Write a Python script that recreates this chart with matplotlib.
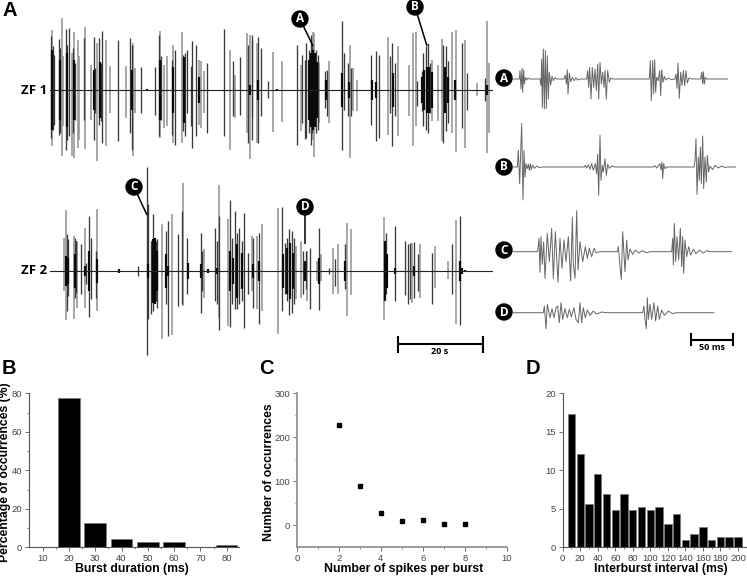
#!/usr/bin/env python3
# -*- coding: utf-8 -*-
"""ZF1/ZF2 recordings, zoomed bursts and the three burst statistics panels"""
import matplotlib
matplotlib.use('Agg')
import matplotlib.pyplot as plt
from matplotlib.patches import Circle

# traces: time in samples (3 samples = 1 px), amplitude up / down from baseline
zf1_dark_t = [153, 158, 162, 176, 180, 198, 202, 207, 219, 226, 251, 281, 285, 298, 302, 307, 355, 391, 396, 424,
              465, 476, 484, 515, 524, 549, 556, 560, 573, 577, 588, 622, 672, 699, 719, 745, 757, 755, 775, 783,
              805, 890, 905, 915, 918, 928, 932, 935, 947, 953, 974, 980, 1027, 1031, 1043, 1053, 1114, 1128, 1136,
              1170, 1177, 1186, 1252, 1265, 1270, 1277, 1283, 1290, 1330, 1338, 1345, 1387, 1402, 1454]
zf1_dark_up = [161, 131, 106, 153, 126, 183, 136, 186, 126, 81, 156, 159, 66, 156, 81, 178, 151, 156, 136, 68,
               68, 166, 101, 91, 121, 106, 111, 121, 71, 146, 136, 81, 183, 86, 99, 136, 166, 150, 159, 126,
               26, 134, 106, 91, 141, 121, 166, 131, 121, 106, 56, 61, 206, 111, 81, 66, 106, 116, 106,
               101, 141, 81, 26, 56, 111, 131, 141, 81, 136, 131, 86, 141, 51, 36]
zf1_dark_down = [144, 119, 104, 134, 129, 179, 149, 139, 129, 89, 89, 149, 69, 104, 94, 159, 154, 129, 179, 69,
                 74, 139, 89, 134, 164, 124, 139, 69, 109, 174, 139, 129, 139, 79, 74, 159, 150, 80, 159, 79,
                 24, 164, 99, 147, 145, 129, 164, 129, 129, 119, 54, 79, 179, 59, 79, 79, 104, 152, 144,
                 69, 169, 79, 49, 64, 109, 119, 129, 69, 159, 124, 99, 114, 59, 34]
zf1_grey_t = [157, 187, 190, 215, 222, 233, 236, 255, 272, 291, 317, 331, 378, 400, 404, 480, 491, 501, 520, 545,
              596, 603, 611, 689, 705, 740, 749, 770, 818, 847, 902, 940, 943, 957, 987, 1049, 1060, 1070, 1164,
              1193, 1228, 1240, 1248, 1297, 1313, 1325, 1357, 1367, 1395, 1430, 1460, 1467]
zf1_grey_up = [181, 216, 101, 111, 174, 151, 101, 189, 76, 141, 149, 71, 73, 141, 66, 176, 76, 103, 136, 173,
               91, 86, 56, 121, 46, 171, 166, 141, 113, 86, 76, 173, 171, 81, 86, 136, 66, 31, 159,
               131, 76, 171, 173, 91, 76, 153, 173, 179, 149, 21, 206, 81]
zf1_grey_down = [169, 199, 109, 199, 204, 174, 149, 177, 89, 212, 169, 69, 84, 199, 69, 144, 114, 109, 159, 159,
                 104, 114, 69, 179, 84, 129, 207, 160, 127, 97, 124, 149, 202, 99, 99, 204, 64, 64, 134,
                 139, 79, 167, 107, 94, 94, 154, 129, 187, 174, 19, 189, 129]
# dense centre of each burst, same height up and down
zf1_core_t = [157, 180, 201, 222, 281, 300, 396, 440, 481, 520, 552, 597, 750, 775, 830, 928, 934, 940, 946, 952,
              978, 1027, 1048, 1115, 1128, 1180, 1265, 1272, 1280, 1288, 1296, 1335, 1345, 1365, 1460]
zf1_core_amp = [120, 90, 110, 90, 60, 85, 60, 4, 90, 70, 100, 40, 15, 30, 4, 90, 110, 120, 110, 85,
                30, 50, 25, 30, 25, 50, 40, 60, 70, 70, 55, 70, 40, 30, 15]

zf2_dark_t = [200, 205, 224, 228, 243, 258, 268, 272, 288, 413, 440, 443, 453, 458, 463, 467, 472, 497, 505, 533,
              545, 562, 603, 605, 645, 650, 657, 690, 695, 705, 710, 717, 725, 731, 745, 758, 778, 847, 855, 860,
              868, 875, 881, 908, 917, 930, 957, 988, 1006, 1034, 1155, 1158, 1185, 1215, 1223, 1230, 1243, 1253,
              1295, 1357, 1380]
zf2_dark_up = [110, 95, 100, 90, 80, 25, 165, 100, 60, 15, 311, 200, 90, 170, 100, 90, 95, 120, 150, 112,
               180, 100, 115, 60, 130, 90, 165, 212, 100, 180, 115, 130, 90, 175, 55, 100, 115, 192, 85, 100,
               125, 120, 100, 60, 60, 70, 128, 10, 35, 80, 70, 115, 135, 90, 80, 85, 88, 50,
               55, 82, 165]
zf2_dark_down = [120, 75, 80, 65, 70, 40, 137, 85, 80, 15, 253, 145, 130, 120, 85, 90, 110, 100, 195, 105,
                 100, 70, 127, 60, 90, 100, 178, 167, 100, 115, 115, 100, 90, 170, 70, 110, 160, 120, 70, 90,
                 132, 125, 100, 70, 55, 115, 118, 10, 45, 55, 60, 70, 90, 72, 100, 85, 80, 60,
                 98, 70, 162]
zf2_grey_t = [192, 198, 223, 232, 255, 292, 485, 515, 550, 613, 657, 683, 755, 770, 785, 833, 887, 902, 920, 950,
              962, 1000, 1013, 1040, 1054, 1152, 1237, 1260, 1306, 1343, 1367]
zf2_grey_up = [100, 183, 105, 90, 130, 185, 140, 170, 265, 65, 258, 155, 105, 105, 140, 190, 75, 90, 60, 30,
               50, 70, 82, 145, 127, 163, 85, 82, 75, 30, 152]
zf2_grey_down = [60, 147, 145, 110, 112, 120, 205, 192, 105, 80, 140, 165, 60, 115, 120, 188, 85, 80, 90, 30,
                 30, 70, 70, 135, 72, 148, 95, 80, 50, 25, 160]
zf2_core_t = [198, 205, 225, 255, 268, 290, 358, 445, 458, 466, 472, 497, 505, 563, 603, 625, 652, 690, 700, 712,
              725, 760, 778, 850, 860, 870, 880, 916, 957, 1035, 1155, 1160, 1185, 1243, 1380, 1385, 1395]
zf2_core_amp = [45, 40, 50, 15, 60, 35, 5, 20, 95, 100, 60, 50, 15, 25, 20, 5, 10, 60, 40, 80,
                55, 20, 30, 50, 70, 85, 55, 30, 40, 30, 90, 50, 10, 15, 30, 8, 3]

# zoomed bursts: turning points of each waveform
wave_a_t = [70, 88, 90, 93, 96, 98, 101, 103, 106, 110, 114, 118, 150, 153, 155, 157, 160, 163, 166, 169, 172, 175,
            178, 182, 186, 190, 195, 200, 222, 226, 229, 232, 234, 238, 242, 247, 252, 258, 263, 270, 290, 293, 296,
            299, 303, 307, 311, 315, 319, 323, 326, 330, 334, 338, 342, 345, 349, 353, 358, 362, 368, 478, 481, 484,
            488, 491, 494, 497, 500, 505, 509, 512, 515, 519, 523, 527, 535, 545, 555, 558, 561, 564, 568, 572, 576,
            580, 584, 588, 592, 597, 605, 632, 635, 638, 640, 643, 646, 650, 713]
wave_a_v = [0, 0, 25, -30, 32, -40, 28, -15, 5, -3, 3, 0, 0, -20, 60, -85, 90, -90, 85, -88, 70, -60,
            20, -18, 8, -5, 4, 0, 0, 12, -15, 28, -45, 18, -8, 5, -5, 3, -3, 0, 0, 25, -25,
            35, -60, 35, -25, 30, -35, 45, -60, 50, -15, 20, -25, 25, -60, 25, -10, 3, 0, 0, 55, -65,
            55, -45, 58, -40, 5, -5, 25, -50, 28, -10, 8, -3, 3, -2, 0, 15, -28, 48, -58, 20, -20,
            25, -20, 25, -12, 3, 0, 0, 20, -15, 22, -15, 5, 0, 0]
wave_b_t = [70, 82, 85, 89, 95, 99, 102, 105, 108, 112, 115, 118, 121, 124, 128, 133, 140, 148, 155, 283, 286, 290,
            295, 300, 305, 310, 316, 320, 323, 326, 330, 333, 337, 340, 345, 349, 353, 358, 365, 375, 490, 495, 500,
            505, 510, 513, 516, 518, 521, 525, 530, 612, 615, 618, 621, 625, 628, 631, 634, 638, 641, 645, 649, 652,
            656, 660, 668, 675, 685, 695, 705, 712, 737]
wave_b_v = [0, 0, 50, -50, 131, -99, 50, -30, 10, -5, 8, -10, 10, -8, 6, -4, 3, -2, 0, 0, 5, -3,
            7, -7, 10, -10, 10, -20, 38, -85, 95, -40, 5, -15, 25, -25, 8, -4, 3, 0, 0, 4, -3,
            3, 10, -8, 15, -35, 10, -5, 0, 0, 20, 85, -82, 30, -40, 60, -50, 93, -65, 30, -45, 35,
            -15, 3, -8, 5, -3, 3, -2, 0, 0]
wave_c_t = [70, 143, 147, 150, 153, 157, 161, 165, 172, 178, 185, 190, 196, 204, 210, 216, 222, 228, 235, 242, 247,
            250, 255, 260, 264, 270, 278, 286, 292, 298, 305, 312, 318, 330, 382, 385, 390, 394, 398, 405, 410, 414,
            420, 428, 436, 446, 456, 470, 480, 545, 548, 550, 553, 557, 561, 566, 571, 575, 578, 581, 585, 590, 596,
            602, 610, 618, 628, 640, 650, 660, 725]
wave_c_v = [0, 0, 40, -62, 45, -38, 30, -80, 55, -30, 70, -80, 60, -92, 40, -50, 35, -30, 45, -88, 103,
            -40, -80, 123, -55, 30, -30, 15, -20, 10, -15, 10, -3, 0, 0, 15, -45, -83, 60, -60, 35, -25,
            8, -8, 5, -4, 3, -3, 0, 0, 40, -40, 85, -30, 45, -25, 70, -45, 45, -65, 35, -15, 15,
            -10, 7, -6, 5, -4, 3, 0, 0]
wave_d_t = [70, 160, 163, 168, 172, 180, 186, 192, 198, 203, 208, 213, 218, 225, 232, 238, 244, 252, 258, 265, 270,
            275, 280, 286, 292, 300, 310, 320, 335, 350, 458, 462, 465, 469, 472, 475, 480, 485, 492, 497, 503, 508,
            515, 523, 535, 548, 560, 672]
wave_d_v = [0, 0, 20, -48, 25, -15, 12, -15, 15, 20, -30, 30, -20, 12, -15, 10, -12, 15, -20, -30, 30,
            -30, 15, -15, 8, -8, 5, -4, 2, 0, 0, 20, -20, -48, 45, -20, 25, -20, 30, -25, 20, -20,
            8, -8, 5, -3, 0, 0]

# panel B
duration_ms = [10, 20, 30, 40, 50, 60, 70, 80]
duration_pct = [0, 77.3, 12.6, 4.3, 2.6, 2.6, 0.3, 1.0]
# panel C
spikes_per_burst = [2, 3, 4, 5, 6, 7, 8]
spike_counts = [228, 90, 27, 10, 11, 2, 2]
# panel D
interval_ms = [10, 20, 30, 40, 50, 60, 70, 80, 90, 100, 110, 120, 130, 140, 150, 160, 170, 180, 190, 200]
interval_pct = [17.3, 12.1, 5.6, 9.5, 6.9, 4.8, 6.9, 4.8, 5.2, 4.8, 5.2, 3.0, 4.3, 0.9, 1.7, 2.6, 0.9, 1.3, 1.3, 1.3]

W, H = 747, 576
BOLD = 'Liberation Sans'
LABEL = 'Open Sans'
AXIS_GREY = '#555555'

plt.rcParams['font.family'] = [BOLD, 'DejaVu Sans']
fig = plt.figure(figsize=(W / 100, H / 100), dpi=100, facecolor='white')


def px_axes(left, top, right, bottom):
    return fig.add_axes([left / W, 1 - bottom / H, (right - left) / W, (bottom - top) / H])


def trace_panel(baseline_y, grey, dark, core, t_end):
    # 3 samples per px, the panel runs from x=50 px to the end of the trace
    half = 120
    ax = px_axes(50, baseline_y - half, 50 + (t_end - 150) / 3, baseline_y + half)
    ax.set_xlim(150, t_end)
    ax.set_ylim(-3 * half, 3 * half)
    ax.axis('off')
    ax.patch.set_alpha(0)
    ax.vlines(grey[0], [-d for d in grey[2]], grey[1], color='#999999', lw=1.2)
    ax.vlines(dark[0], [-d for d in dark[2]], dark[1], color='#3a3a3a', lw=0.95)
    ax.vlines(core[0], [-a for a in core[1]], core[1], color='#0a0a0a', lw=1.6)
    ax.axhline(0, color='#222222', lw=0.8)
    return ax


def wave_panel(baseline_y, t, v):
    half = 50
    ax = px_axes(490, baseline_y - half, 747, baseline_y + half)
    ax.set_xlim(0, 771)
    ax.set_ylim(-3 * half, 3 * half)
    ax.axis('off')
    ax.patch.set_alpha(0)
    ax.plot(t, v, color='#666666', lw=0.7)
    return ax


trace_panel(90, (zf1_grey_t, zf1_grey_up, zf1_grey_down), (zf1_dark_t, zf1_dark_up, zf1_dark_down),
            (zf1_core_t, zf1_core_amp), 1479)
trace_panel(271, (zf2_grey_t, zf2_grey_up, zf2_grey_down), (zf2_dark_t, zf2_dark_up, zf2_dark_down),
            (zf2_core_t, zf2_core_amp), 1479)
wave_panel(79, wave_a_t, wave_a_v)
wave_panel(167, wave_b_t, wave_b_v)
wave_panel(251.7, wave_c_t, wave_c_v)
wave_panel(312.7, wave_d_t, wave_d_v)


def style_axes(ax, spine_col=AXIS_GREY, spine_lw=0.8):
    ax.spines['top'].set_visible(False)
    ax.spines['right'].set_visible(False)
    ax.spines['left'].set_color(spine_col)
    ax.spines['bottom'].set_color(spine_col)
    ax.spines['left'].set_linewidth(spine_lw)
    ax.spines['bottom'].set_linewidth(spine_lw)
    ax.tick_params(which='major', length=3, width=0.6, color=AXIS_GREY, labelsize=6.8, labelcolor='#444444', pad=2)
    ax.tick_params(which='minor', length=1.5, width=0.5, color=AXIS_GREY)
    ax.patch.set_alpha(0)


# panel B
ax_b = px_axes(29.3, 393.3, 239.3, 547.3)
ax_b.bar(duration_ms, duration_pct, width=8.2, color='black', edgecolor='#777777', linewidth=0.4)
ax_b.set_xlim(4.9, 84.8)
ax_b.set_ylim(0, 80)
ax_b.set_xticks(duration_ms)
ax_b.set_xticks([15, 25, 35, 45, 55, 65, 75], minor=True)
ax_b.set_yticks([0, 20, 40, 60, 80])
ax_b.set_yticks([10, 30, 50, 70], minor=True)
style_axes(ax_b)

# panel C
ax_c = px_axes(297, 393.3, 506.7, 547.3)
ax_c.plot(spikes_per_burst, spike_counts, ls='none', marker='s', ms=2.6, color='black')
ax_c.set_xlim(0, 10)
ax_c.set_ylim(-50, 300)
ax_c.set_xticks([0, 2, 4, 6, 8, 10])
ax_c.set_xticks([1, 3, 5, 7, 9], minor=True)
ax_c.set_yticks([0, 100, 200, 300])
ax_c.set_yticks([50, 150, 250], minor=True)
style_axes(ax_c, '#8a8a8a', 1.2)

# panel D
ax_d = px_axes(562.7, 393.3, 746.7, 547.3)
ax_d.bar(interval_ms, interval_pct, width=8.4, color='black', edgecolor='#777777', linewidth=0.4)
ax_d.set_xlim(0, 210)
ax_d.set_ylim(0, 20)
ax_d.set_xticks(range(0, 201, 20))
ax_d.set_xticks(range(10, 201, 20), minor=True)
ax_d.set_yticks([0, 5, 10, 15, 20])
style_axes(ax_d)

# everything placed by hand goes on a px overlay
ov = fig.add_axes([0, 0, 1, 1], zorder=10)
ov.set_xlim(0, W)
ov.set_ylim(H, 0)
ov.axis('off')
ov.patch.set_alpha(0)

for txt, x, y in [('A', 9.5, 11), ('B', 9, 369), ('C', 266, 369), ('D', 533, 369)]:
    ov.text(x, y, txt, fontsize=14.5, fontweight='bold', color='black', ha='center', va='center')

ov.text(34.5, 90, 'ZF 1', family=LABEL, fontsize=9.5, fontweight='bold', ha='center', va='center')
ov.text(34.5, 271, 'ZF 2', family=LABEL, fontsize=9.5, fontweight='bold', ha='center', va='center')

ov.text(132, 569, 'Burst duration (ms)', fontsize=8.8, fontweight='bold', ha='center', va='center')
ov.text(404, 569, 'Number of spikes per burst', fontsize=8.8, fontweight='bold', ha='center', va='center')
ov.text(661, 569, 'Interburst interval (ms)', fontsize=8.8, fontweight='bold', ha='center', va='center')
ov.text(5, 472, 'Percentage of occurrences (%)', fontsize=8.8, fontweight='bold', rotation=90, ha='center', va='center')
ov.text(269, 472, 'Number of occurrences', fontsize=8.8, fontweight='bold', rotation=90, ha='center', va='center')

# callouts
for txt, x, y, x2, y2 in [('A', 300, 19, 313, 46), ('B', 415, 7, 427, 46), ('C', 134, 187, 147, 215), ('D', 305, 207, 305, 244)]:
    ov.plot([x, x2], [y, y2], color='black', lw=1.1, solid_capstyle='butt', zorder=3)
    ov.add_patch(Circle((x, y), 8, color='black', zorder=4))
    ov.text(x, y, txt, family=LABEL, color='white', fontsize=8.5, fontweight='bold', ha='center', va='center', zorder=5)
for txt, y in [('A', 78), ('B', 167), ('C', 250), ('D', 312)]:
    ov.add_patch(Circle((504, y), 8, color='black', zorder=4))
    ov.text(504, y, txt, family=LABEL, color='white', fontsize=8.5, fontweight='bold', ha='center', va='center', zorder=5)

# scale bars
ov.plot([398, 483], [344, 344], color='black', lw=1.5)
ov.vlines([398, 483], 336, 353, color='black', lw=1.5)
ov.text(440, 352, '20 s', family=LABEL, fontsize=6.5, fontweight='bold', ha='center', va='center')
ov.plot([691, 733], [340, 340], color='black', lw=1.5)
ov.vlines([691, 733], 333, 346, color='black', lw=1.5)
ov.text(712, 348, '50 ms', family=LABEL, fontsize=6.5, fontweight='bold', ha='center', va='center')

fig.savefig('out.png', dpi=100)
plt.close()
